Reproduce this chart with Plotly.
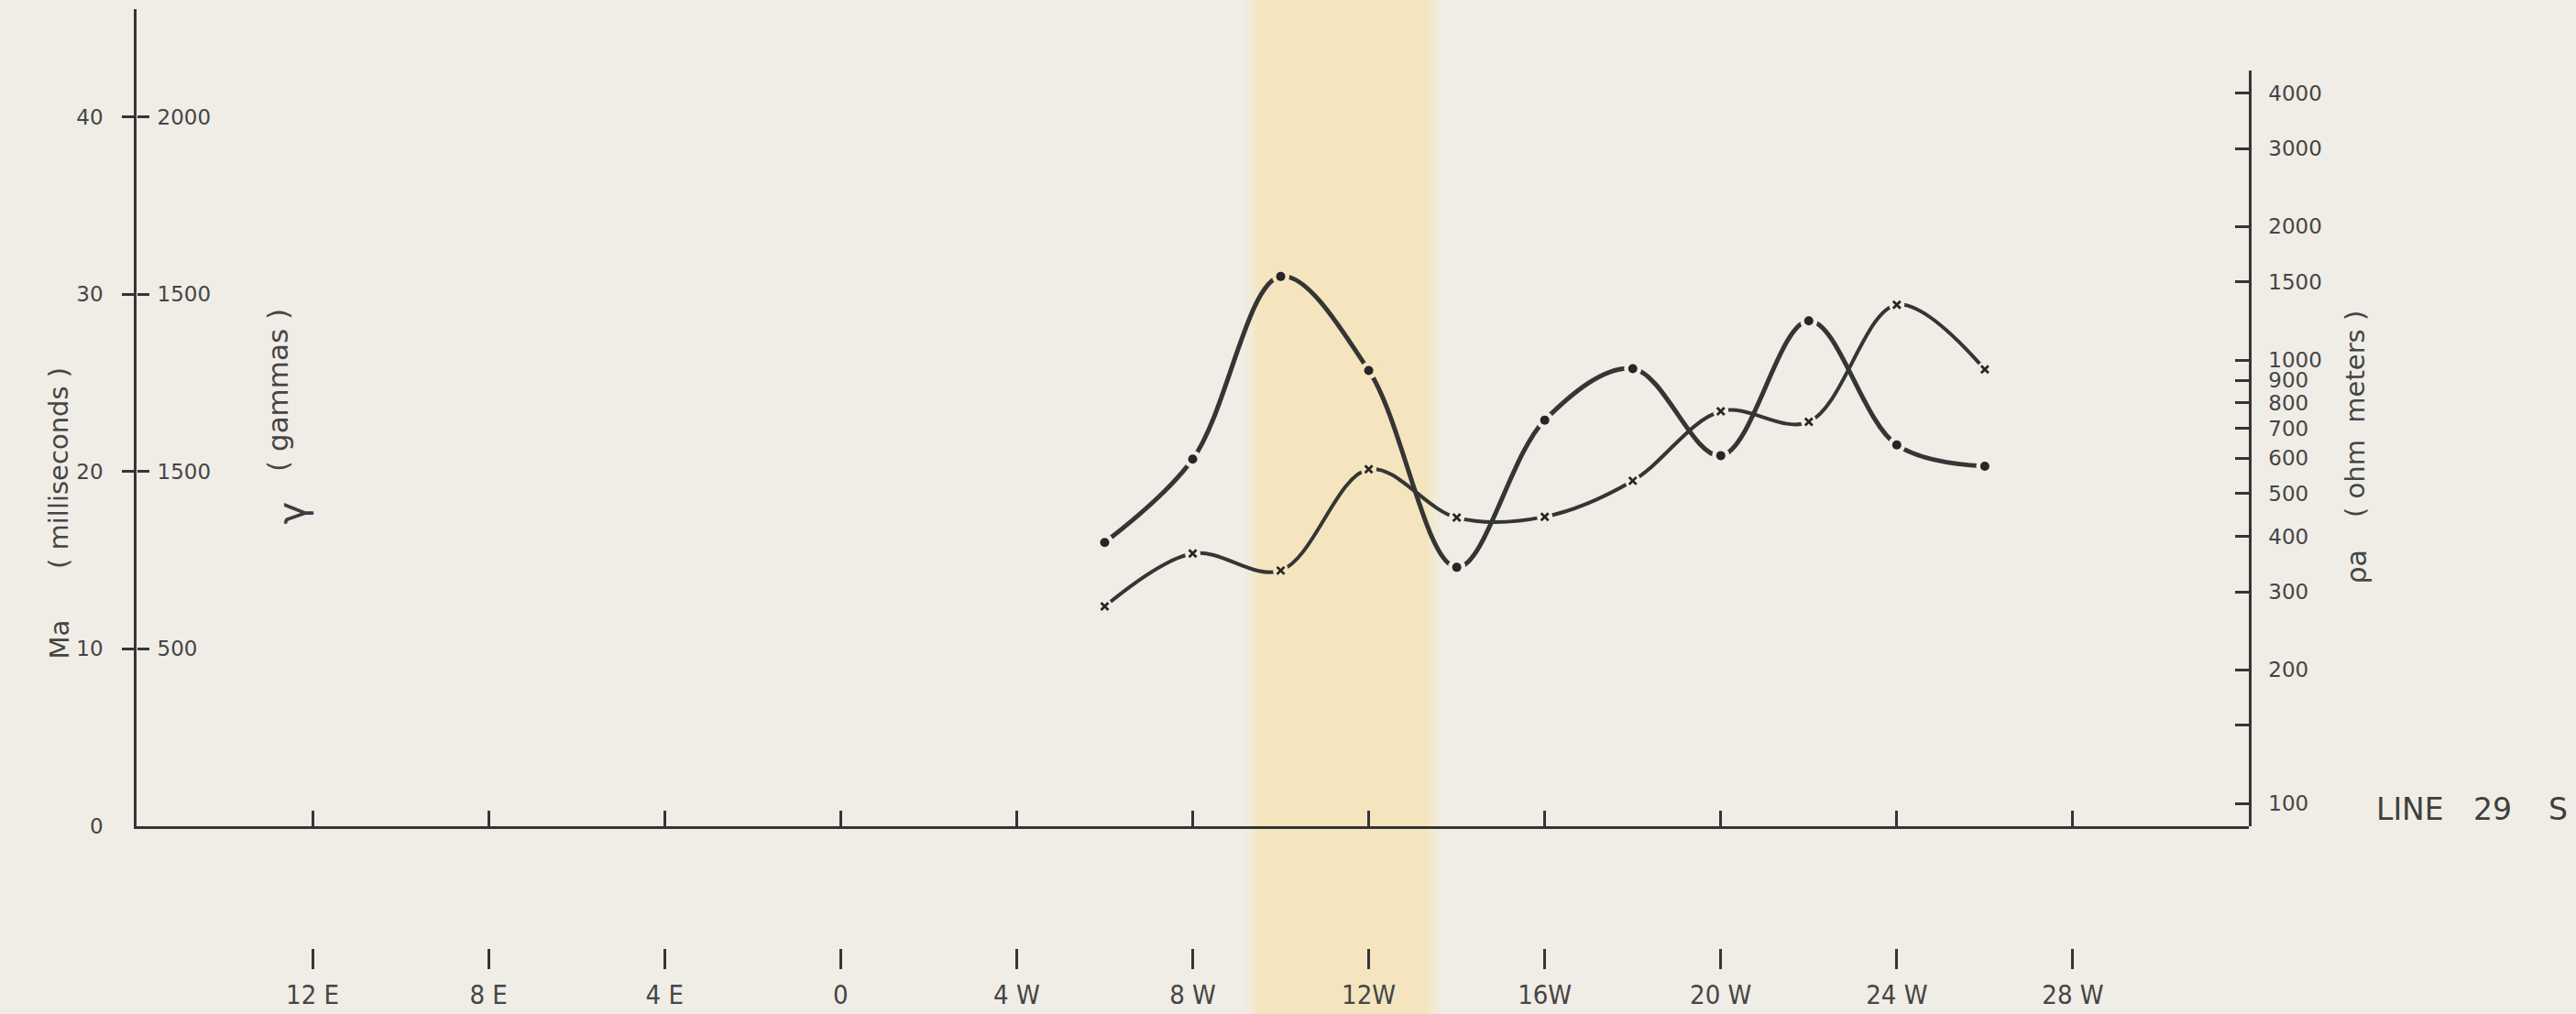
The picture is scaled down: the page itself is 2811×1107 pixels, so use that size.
import plotly.graph_objects as go

# ---- Survey data, Line 29 S (station numbers: W positive, E negative) ----
stations = [6, 8, 10, 12, 14, 16, 18, 20, 22, 24, 26]
chargeability_ms = [16.0, 20.7, 31.0, 25.7, 14.6, 22.9, 25.8, 20.9, 28.5, 21.5, 20.3]
resistivity_ohm_m = [278, 366, 335, 567, 441, 443, 534, 766, 725, 1332, 952]

station_ticks = [-12, -8, -4, 0, 4, 8, 12, 16, 20, 24, 28]
station_labels = ["12 E", "8 E", "4 E", "0", "4 W", "8 W", "12W", "16W", "20 W", "24 W", "28 W"]

ma_ticks = [10, 20, 30, 40]
ma_labels = ["10", "20", "30", "40"]
gamma_labels = ["500", "1500", "1500", "2000"]

rho_ticks = [100, 150, 200, 300, 400, 500, 600, 700, 800, 900, 1000, 1500, 2000, 3000, 4000]
rho_labels = ["100", "", "200", "300", "400", "500", "600", "700", "800", "900",
              "1000", "1500", "2000", "3000", "4000"]

anomaly_zone = [9.45, 13.35]   # shaded interval, station units

# ---- page geometry (pixels) ----
W, H = 2811, 1107
L, R, T, B = 149, 2454, 10, 1035          # plotting box
BASE = 902                                  # baseline of the profile
MA_PX = 19.36                               # pixels per millisecond
DEC_PX = 484                                # pixels per decade of resistivity
Y100 = 877                                  # pixel row of 100 ohm-m
X0_PX, STA_PX = 917, 48.1                   # station 0 and pixels per station


def px(x):
    return (x - L) / (R - L)


def py(y):
    return (B - y) / (B - T)


INK = "#353535"
TXT = "#454545"
PAPER = "#f0ede6"
BAND = "#f4e5bf"
BAND_MID = "#f3e8cb"
BAND_EDGE = "#f1ebdb"

font_num = dict(family="DejaVu Sans", size=23, color=TXT)
font_narrow = dict(family="Liberation Sans Narrow, DejaVu Sans Condensed, Liberation Sans",
                   size=29, color=TXT)
font_title = dict(family="DejaVu Sans", size=29, color=TXT)

x_range = [-16, 32]


def in_band(s):
    return anomaly_zone[0] <= s <= anomaly_zone[1]


gap_colors = [BAND if in_band(s) else PAPER for s in stations]

fig = go.Figure()

# curves
fig.add_trace(go.Scatter(
    x=stations, y=chargeability_ms, mode="lines", yaxis="y",
    line=dict(color=INK, width=5, shape="spline", smoothing=1.0),
    hoverinfo="skip", showlegend=False))
fig.add_trace(go.Scatter(
    x=stations, y=resistivity_ohm_m, mode="lines", yaxis="y2",
    line=dict(color=INK, width=4, shape="spline", smoothing=1.0),
    hoverinfo="skip", showlegend=False))

# small breaks in the pen line around each reading
fig.add_trace(go.Scatter(
    x=stations, y=chargeability_ms, mode="markers", yaxis="y",
    marker=dict(symbol="circle", size=19, color=gap_colors, line=dict(width=0)),
    hoverinfo="skip", showlegend=False))
fig.add_trace(go.Scatter(
    x=stations, y=resistivity_ohm_m, mode="markers", yaxis="y2",
    marker=dict(symbol="circle", size=17, color=gap_colors, line=dict(width=0)),
    hoverinfo="skip", showlegend=False))

# reading symbols
fig.add_trace(go.Scatter(
    x=stations, y=chargeability_ms, mode="markers", yaxis="y",
    marker=dict(symbol="circle", size=10, color="#262626", line=dict(width=0)),
    name="Ma", showlegend=False))
fig.add_trace(go.Scatter(
    x=stations, y=resistivity_ohm_m, mode="markers", yaxis="y2",
    marker=dict(symbol="x-thin", size=8, color="#262626", line=dict(width=2.8, color="#262626")),
    name="ρa", showlegend=False))

# carrier trace so the station-label axis and the gamma scale are drawn
fig.add_trace(go.Scatter(
    x=stations, y=chargeability_ms, xaxis="x2", yaxis="y3", mode="markers",
    marker=dict(opacity=0), hoverinfo="skip", showlegend=False))

# shaded anomaly zone, full page height with soft edges
zx0 = X0_PX + STA_PX * anomaly_zone[0]
zx1 = X0_PX + STA_PX * anomaly_zone[1]
shapes = []
for dx, col in [(12, BAND_EDGE), (5, BAND_MID), (0, BAND)]:
    shapes.append(dict(type="rect", xref="paper", yref="paper", layer="below",
                       x0=px(zx0 - dx), x1=px(zx1 + dx), y0=py(H + 5), y1=py(-5),
                       fillcolor=col, line=dict(width=0)))

annotations = []
# "0" at the origin of the chargeability scale
annotations.append(dict(x=px(115), y=0, xref="paper", yref="y", text="0", showarrow=False,
                        xanchor="right", yanchor="middle", font=font_num))
# axis titles
annotations += [
    dict(x=px(45), y=py(722), xref="paper", yref="paper", text="Ma", textangle=-90,
         showarrow=False, font=font_title),
    dict(x=px(45), y=py(511), xref="paper", yref="paper", text="( milliseconds )", textangle=-90,
         showarrow=False, font=font_title),
    dict(x=px(291), y=py(560), xref="paper", yref="paper", text="γ", textangle=-90,
         showarrow=False, font=dict(family="DejaVu Sans", size=42, color="#3e3e3e")),
    dict(x=px(283), y=py(426), xref="paper", yref="paper", text="( gammas )", textangle=-90,
         showarrow=False, font=dict(family="DejaVu Sans", size=31, color=TXT)),
    dict(x=px(2590), y=py(619), xref="paper", yref="paper", text="ρa", textangle=-90,
         showarrow=False, font=dict(family="DejaVu Sans", size=30, color=TXT)),
    dict(x=px(2589), y=py(452), xref="paper", yref="paper", text="( ohm  meters )", textangle=-90,
         showarrow=False, font=font_title),
]
# line designation
for txt, cx in [("LINE", 2630), ("29", 2720), ("S", 2791)]:
    annotations.append(dict(x=px(cx), y=py(883), xref="paper", yref="paper", text=txt,
                            showarrow=False, xanchor="center", yanchor="middle",
                            font=dict(family="DejaVu Sans", size=33, color="#3e3e3e")))

base_dom = py(BASE)
ma_top = (BASE - T) / MA_PX
rho_lo = 2 - (BASE - Y100) / DEC_PX
rho_hi = 2 + (Y100 - 77) / DEC_PX

fig.update_layout(
    width=W, height=H, autosize=False,
    margin=dict(l=L, r=W - R, t=T, b=H - B, pad=0, autoexpand=False),
    paper_bgcolor=PAPER, plot_bgcolor="rgba(0,0,0,0)",
    showlegend=False,
    shapes=shapes, annotations=annotations,
    xaxis=dict(domain=[0, 1], range=x_range, anchor="y", automargin=False,
               showline=True, linecolor=INK, linewidth=2.5,
               ticks="inside", ticklen=17, tickwidth=2.5, tickcolor=INK,
               tickvals=station_ticks, showticklabels=False,
               showgrid=False, zeroline=False, fixedrange=True),
    xaxis2=dict(overlaying="x", anchor="free", position=0, side="bottom", range=x_range,
                automargin=False,
                showline=False, ticks="outside", ticklen=22, tickwidth=2.5, tickcolor=INK,
                tickvals=station_ticks, ticktext=station_labels, tickfont=font_narrow,
                ticklabelstandoff=3, showgrid=False, zeroline=False),
    yaxis=dict(domain=[base_dom, 1], range=[0, ma_top], anchor="x", side="left",
               automargin=False,
               showline=True, linecolor=INK, linewidth=2.5,
               ticks="outside", ticklen=13, tickwidth=2.5, tickcolor=INK,
               tickvals=ma_ticks, ticktext=ma_labels, tickfont=font_num,
               ticklabelstandoff=16, showgrid=False, zeroline=False),
    yaxis3=dict(overlaying="y", anchor="free", position=0, side="right", range=[0, ma_top],
                automargin=False,
                showline=False, ticks="outside", ticklen=13, tickwidth=2.5, tickcolor=INK,
                tickvals=ma_ticks, ticktext=gamma_labels, tickfont=font_num,
                ticklabelstandoff=4, showgrid=False, zeroline=False),
    yaxis2=dict(domain=[base_dom, py(77)], type="log", range=[rho_lo, rho_hi],
                anchor="x", side="right", automargin=False,
                showline=True, linecolor=INK, linewidth=2.5,
                ticks="inside", ticklen=15, tickwidth=2.5, tickcolor=INK,
                tickvals=rho_ticks, ticktext=rho_labels, tickfont=font_num,
                ticklabelstandoff=14, showgrid=False, zeroline=False),
)

fig.write_html("out.html")
